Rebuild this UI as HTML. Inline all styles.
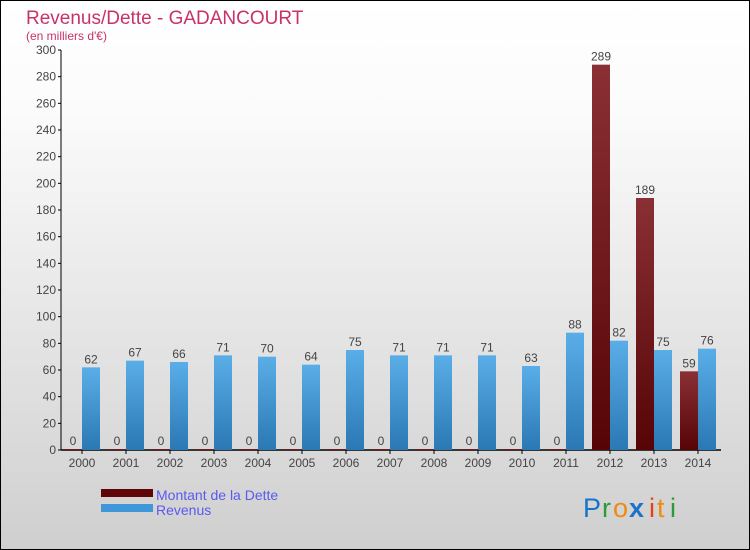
<!DOCTYPE html>
<html><head><meta charset="utf-8"><style>
body{margin:0}
#c{position:relative;width:748px;height:548px;border:1px solid #000;background:linear-gradient(#fff,#fbfbfb 20%,#cfcfcf);font-family:"Liberation Sans",sans-serif;overflow:hidden}
</style></head><body>
<div id="c">
<svg width="748" height="548" id="svg">
<defs>
<linearGradient id="gb" x1="0" y1="0" x2="0" y2="1"><stop offset="0" stop-color="#5aaee8"/><stop offset="1" stop-color="#2a78b4"/></linearGradient>
<linearGradient id="gr" x1="0" y1="0" x2="0" y2="1"><stop offset="0" stop-color="#8a3035"/><stop offset="1" stop-color="#560406"/></linearGradient>
</defs>
<text x="25" y="23" font-size="19" fill="#c8326a">Revenus/Dette - GADANCOURT</text>
<text x="25" y="39" font-size="12" fill="#c8326a">(en milliers d'€)</text>
<g id="axes"></g><g id="bars"></g>
<rect x="100" y="488" width="52" height="8" fill="#600508"/>
<rect x="100" y="503" width="52" height="8" fill="#3d97d9"/>
<text x="155" y="499" font-size="14" fill="#5a5af0">Montant de la Dette</text>
<text x="155" y="514" font-size="14" fill="#5a5af0">Revenus</text>
<g font-size="27" font-family="Liberation Sans, sans-serif"><text x="582" y="516" fill="#1a73c8">P</text><text x="601" y="516" fill="#2a9a3a">r</text><text x="612" y="516" fill="#f08a10">o</text><text x="628" y="516" fill="#1a73c8" font-weight="bold">x</text><text x="648" y="516" fill="#e84010">i</text><text x="656" y="516" fill="#f08a10">t</text><text x="669" y="516" fill="#2a9a3a">i</text></g>
</svg></div>
<script>
const years=["2000","2001","2002","2003","2004","2005","2006","2007","2008","2009","2010","2011","2012","2013","2014"];
const dette=[0,0,0,0,0,0,0,0,0,0,0,0,289,189,59];
const revenus=[62,67,66,71,70,64,75,71,71,71,63,88,82,75,76];
const ticks=[0,20,40,60,80,100,120,140,160,180,200,220,240,260,280,300];
const NS="http://www.w3.org/2000/svg";
const y=v=>449-v*400/300, cx=i=>81+44*i;
function mk(t,a,p){const e=document.createElementNS(NS,t);for(const k in a)e.setAttribute(k,a[k]);p.appendChild(e);return e;}
const ax=document.getElementById('axes'),bg=document.getElementById('bars');
let l=mk('line',{x1:60,y1:49,x2:60,y2:449,stroke:'#000'},ax);


l=mk('line',{x1:60,y1:449,x2:720,y2:449,stroke:'#000','stroke-width':1.5},ax);


ticks.forEach(t=>{mk('line',{x1:57,x2:60,y1:y(t),y2:y(t),stroke:'#000'},ax);
const e=mk('text',{x:55,y:y(t)+4,'text-anchor':'end','font-size':12,fill:'#444'},ax);e.textContent=t;

});
years.forEach((yr,i)=>{const c=cx(i);
mk('line',{x1:c,x2:c,y1:449,y2:453,stroke:'#000'},ax);
const e=mk('text',{x:c,y:466,'text-anchor':'middle','font-size':12,fill:'#444'},ax);e.textContent=yr;


const d=dette[i],r=revenus[i];
let b=mk('rect',{x:c-18,y:y(d)-(d?0:1),width:18,height:Math.max(1,449-y(d)),fill:'url(#gr)'},bg);


let t=mk('text',{x:c-9,y:y(d)-(d?4:5),'text-anchor':'middle','font-size':12,fill:'#444'},bg);t.textContent=d;


b=mk('rect',{x:c,y:y(r),width:18,height:449-y(r),fill:'url(#gb)'},bg);


t=mk('text',{x:c+9,y:y(r)-4,'text-anchor':'middle','font-size':12,fill:'#444'},bg);t.textContent=r;

});
</script>
</body></html>
